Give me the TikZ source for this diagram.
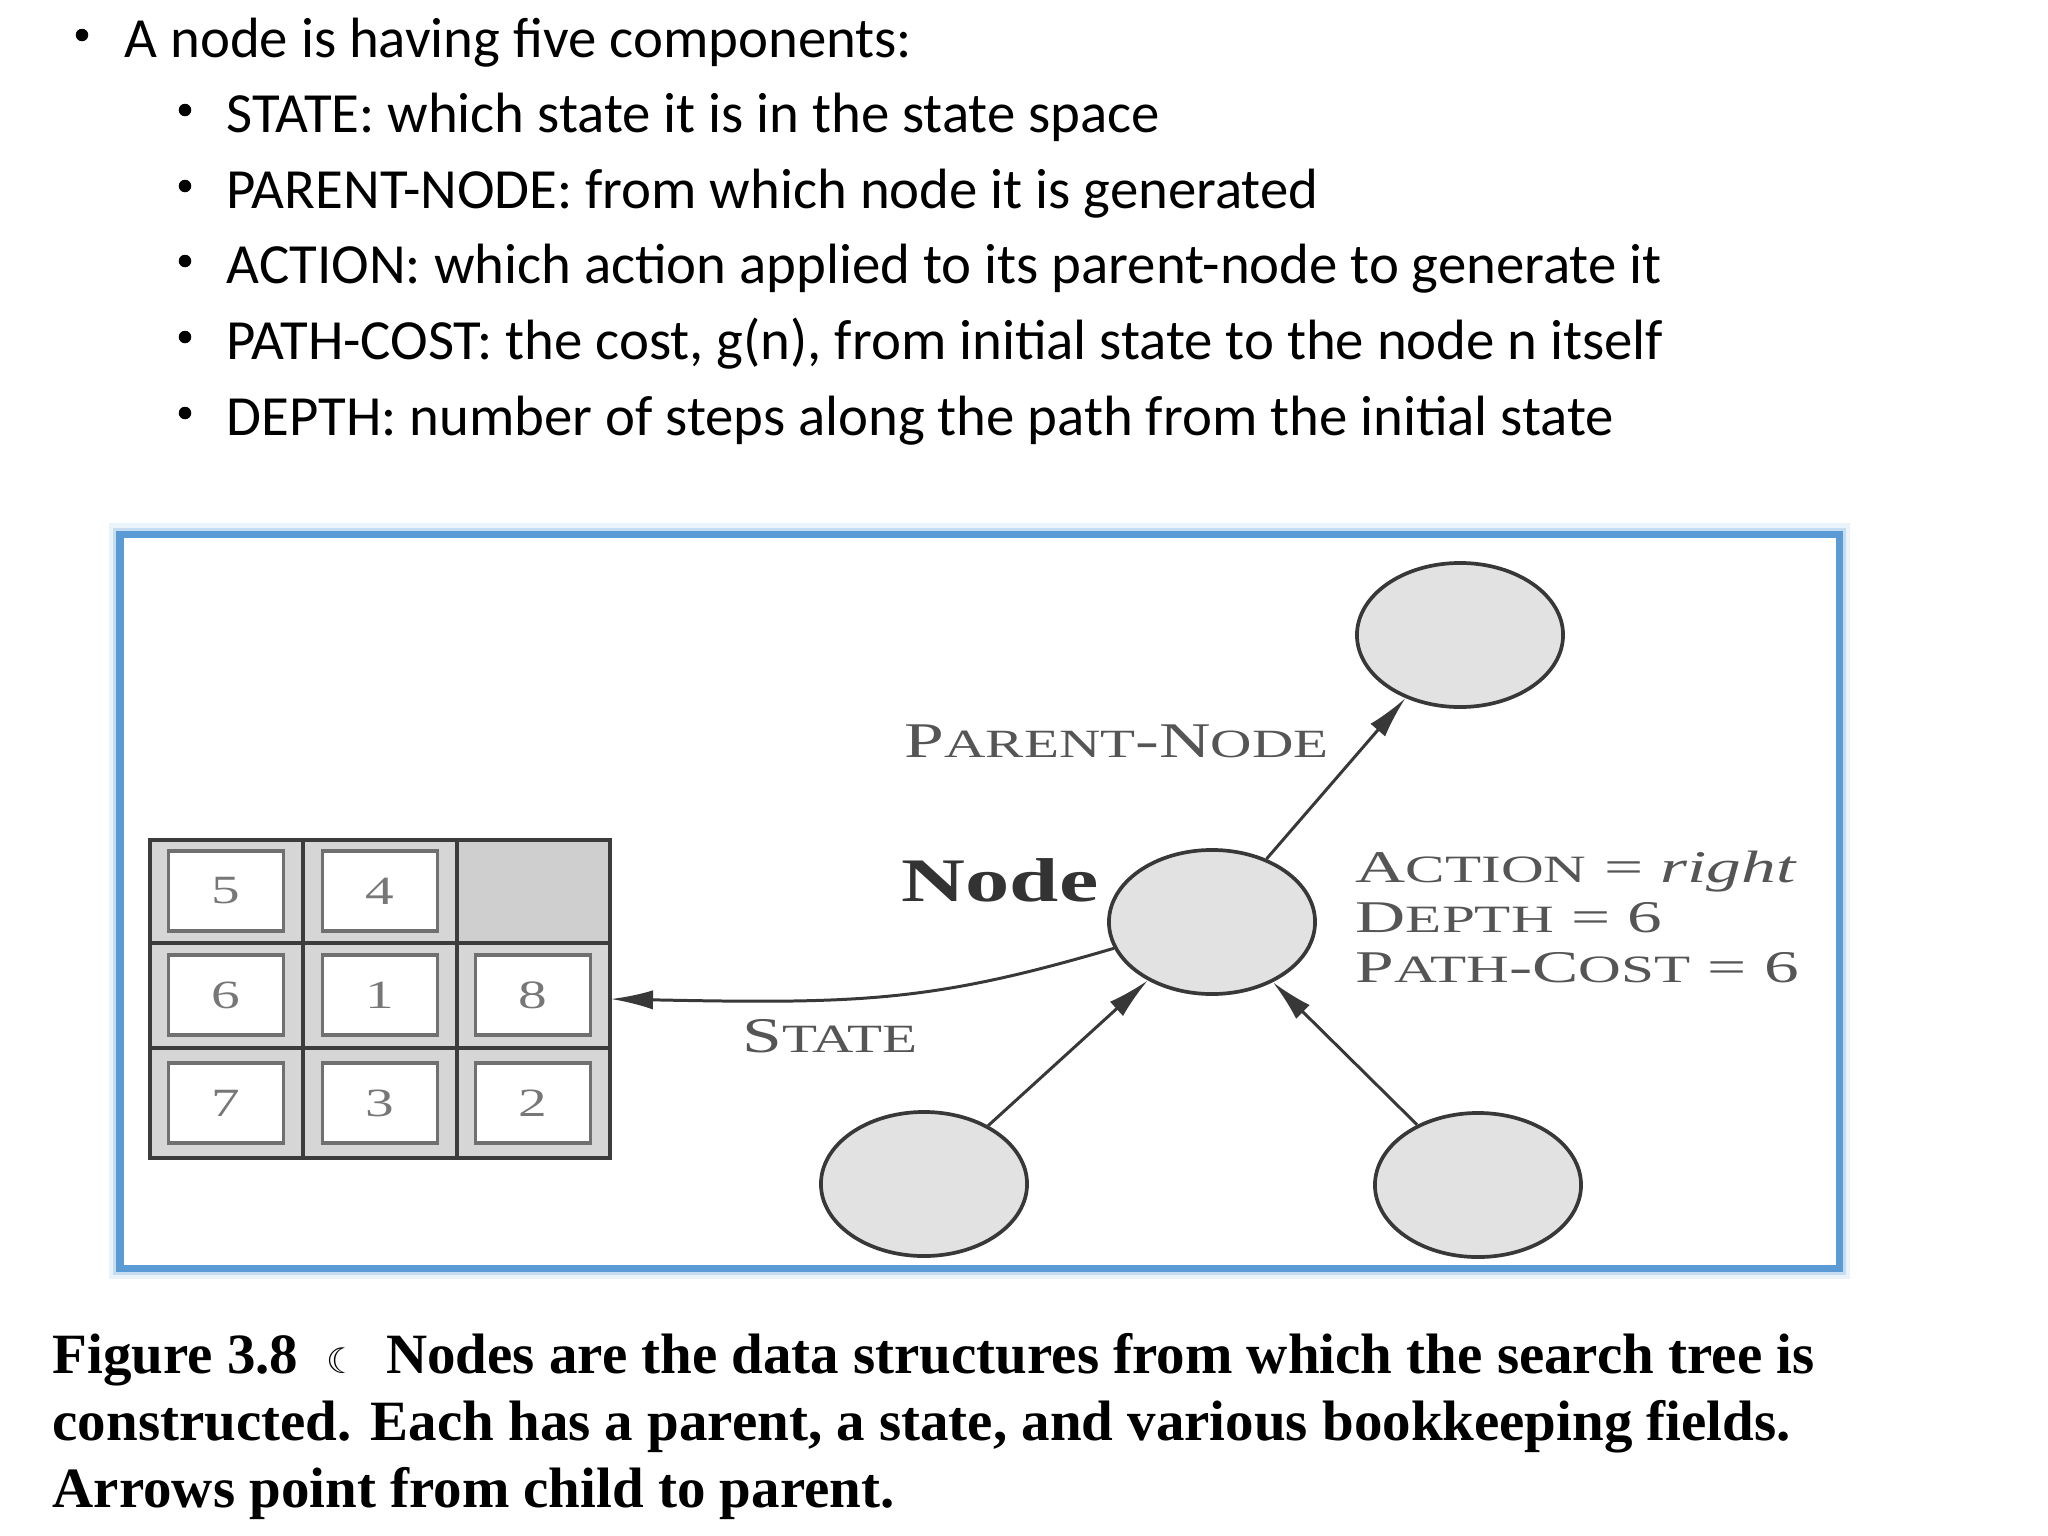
\documentclass[tikz,border=0pt]{standalone}
\usepackage{fontspec}
\setmainfont{Liberation Serif}
\newfontfamily\carlito{Carlito}
\newfontfamily\dejavu{DejaVu Sans}
\usepackage{graphicx}
\usetikzlibrary{shapes.geometric,arrows.meta}
\definecolor{frameblue}{HTML}{5B9BD5}
\definecolor{lineg}{HTML}{383838}
\definecolor{fillg}{HTML}{E2E2E2}
\definecolor{labg}{HTML}{555555}
\definecolor{cellg}{HTML}{D6D6D6}
\definecolor{blankg}{HTML}{CFCFCF}
\definecolor{tileb}{HTML}{707070}
\definecolor{numg}{HTML}{777777}
\definecolor{gridg}{HTML}{3C3C3C}
\newcommand\smc[1]{{\fontsize{11.4}{11.4}\selectfont #1}}
\newcommand\smcb[1]{{\fontsize{11}{11}\selectfont #1}}
\newcommand\hs[1]{\scalebox{1.43}[1]{#1}}
\newcommand\hsb[1]{\scalebox{1.53}[1]{#1}}
\begin{document}
\begin{tikzpicture}[x=0.01cm,y=-0.01cm,
  bul/.style={anchor=base west, inner sep=0, font=\carlito\fontsize{16.15}{16.15}\selectfont},
  bdot/.style={circle, fill=black, inner sep=0, minimum size=0.125cm},
  captext/.style={anchor=base west, inner sep=0, font=\bfseries\fontsize{16.2}{16.2}\selectfont},
  flab/.style={anchor=base west, inner sep=0, text=labg, font=\fontsize{14.2}{14.2}\selectfont},
  flabb/.style={anchor=base west, inner sep=0, text=labg, font=\fontsize{12.9}{12.9}\selectfont},
  tnode/.style={ellipse, draw=lineg, line width=1.05pt, fill=fillg, minimum width=2.06cm, minimum height=1.44cm, inner sep=0},
  arr/.style={draw=lineg, line width=0.85pt, -{Latex[length=12pt,width=5.5pt]}},
  tilebox/.style={draw=tileb, line width=1.1pt, fill=white, minimum width=1.15cm, minimum height=0.8cm, inner sep=0, text=numg, font=\fontsize{11.4}{11.4}\selectfont},
  gridln/.style={draw=gridg, line width=1.4pt},
]
\fill[white] (0,0) rectangle (2048,1536);
\useasboundingbox (0,0) rectangle (2048,1536);

% top text
\node[bdot] (b1) at (82,35) {};
\node[bul] (l1) at (124,57) {A node is having five components:};
\node[bdot] (b2) at (185,110) {};
\node[bul] (l2) at (226,132) {STATE: which state it is in the state space};
\node[bdot] (b3) at (185,186) {};
\node[bul] (l3) at (226,208) {PARENT-NODE: from which node it is generated};
\node[bdot] (b4) at (185,261) {};
\node[bul] (l4) at (226,283) {ACTION: which action applied to its parent-node to generate it};
\node[bdot] (b5) at (185,337) {};
\node[bul] (l5) at (226,359) {PATH-COST: the cost, g(n), from initial state to the node n itself};
\node[bdot] (b6) at (185,413) {};
\node[bul] (l6) at (226,435) {DEPTH: number of steps along the path from the initial state};

% frame
\draw[frameblue!12, line width=0.22cm] (120,534) rectangle (1839,1268);
\draw[frameblue!35, line width=0.13cm] (120,534) rectangle (1839,1268);
\fill[white] (123,537) rectangle (1836,1265);
\draw[frameblue, line width=0.07cm] (120,534) rectangle (1839,1268);

% puzzle
\node[inner sep=0, minimum width=4.6cm, minimum height=3.18cm, fill=cellg] (puzzle) at (380,999) {};
\fill[blankg] (457,840) rectangle (610,943);
\node[tilebox] (t5) at (226,891) {\hs{5}};
\node[tilebox] (t4) at (380,891) {\hs{4}};
\node[tilebox] (t6) at (226,995) {\hs{6}};
\node[tilebox] (t1) at (380,995) {\hs{1}};
\node[tilebox] (t8) at (533,995) {\hs{8}};
\node[tilebox] (t7) at (226,1103) {\hs{7}};
\node[tilebox] (t3) at (380,1103) {\hs{3}};
\node[tilebox] (t2) at (533,1103) {\hs{2}};
\draw[gridln] (150,840) rectangle (610,1158);
\draw[gridln] (303,840) -- (303,1158) (457,840) -- (457,1158);
\draw[gridln] (150,943) -- (610,943) (150,1048) -- (610,1048);

% tree nodes
\node[tnode] (top) at (1460,635) {};
\node[tnode] (cn) at (1212,922) {};
\node[tnode] (bl) at (924,1184) {};
\node[tnode] (br) at (1478,1185) {};

\draw[arr] (cn) -- (top);
\draw[arr] (bl) -- (cn);
\draw[arr] (br) -- (cn);
\draw[arr] (cn.195) .. controls (932,1002) and (860,1004) .. (puzzle.east);

% figure labels
\node[flab] (pn) at (904,757) {\hs{P\smc{ARENT}-N\smc{ODE}}};
\node[flab, text=black!80, font=\bfseries\fontsize{17.6}{17.6}\selectfont] (nl) at (901,901) {\hs{Node}};
\node[flab] (st) at (742,1052) {\hs{S\smc{TATE}}};
\node[flabb] (a1) at (1355,882) {\hsb{A\smcb{CTION} = \textit{right}}};
\node[flabb] (a2) at (1355,932) {\hsb{D\smcb{EPTH} = 6}};
\node[flabb] (a3) at (1355,982) {\hsb{P\smcb{ATH}-C\smcb{OST} = 6}};

% caption
\node[captext] (c1) at (52,1373) {Figure 3.8\hspace{8pt}{\dejavu\mdseries\fontsize{10}{10}\selectfont ☾}\hspace{8pt}Nodes are the data structures from which the search tree is};
\node[captext] (c2) at (52,1440) {constructed. Each has a parent, a state, and various bookkeeping fields.};
\node[captext] (c3) at (52,1507) {Arrows point from child to parent.};
\end{tikzpicture}
\end{document}
